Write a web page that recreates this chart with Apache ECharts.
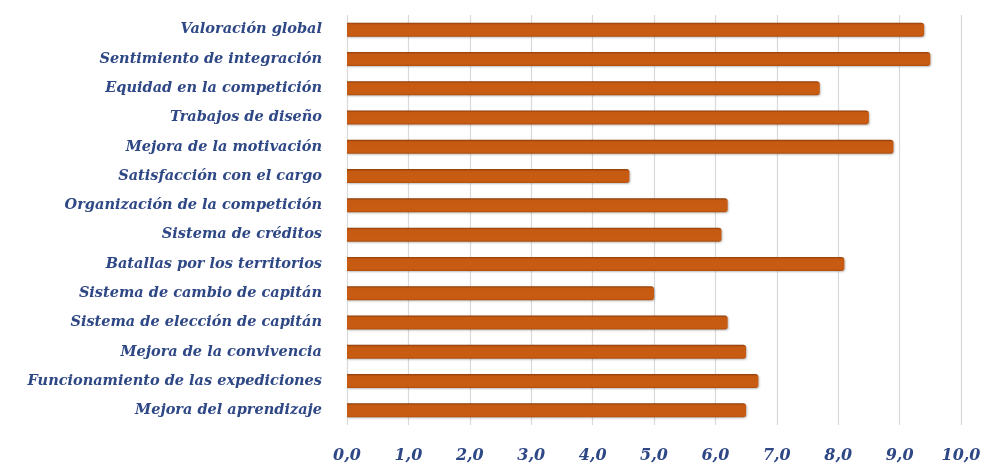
<!DOCTYPE html>
<html lang="es">
  <head>
    <meta charset="UTF-8" />
    <title>Valoraciones</title>
    <script src="https://cdn.jsdelivr.net/npm/echarts@6.0.0/dist/echarts.min.js"></script>
    <style>
      body {
        margin: 0;
        padding: 0;
        background: #fff;
      }
      #main {
        width: 999px;
        height: 465px;
      }
    </style>
  </head>
  <body>
    <div id="main"></div>
    <script>
      // categories, top to bottom as in the picture
      const categories = [
        "Valoración global",
        "Sentimiento de integración",
        "Equidad en la competición",
        "Trabajos de diseño",
        "Mejora de la motivación",
        "Satisfacción con el cargo",
        "Organización de la competición",
        "Sistema de créditos",
        "Batallas por los territorios",
        "Sistema de cambio de capitán",
        "Sistema de elección de capitán",
        "Mejora de la convivencia",
        "Funcionamiento de las expediciones",
        "Mejora del aprendizaje",
      ];
      const values = [9.4, 9.5, 7.7, 8.5, 8.9, 4.6, 6.2, 6.1, 8.1, 5.0, 6.2, 6.5, 6.7, 6.5];
      const xTicks = [0, 1, 2, 3, 4, 5, 6, 7, 8, 9, 10];

      const labelFont = "'DejaVu Serif', 'Liberation Serif', serif";
      const textBlue = "#2E4785";

      const chart = echarts.init(document.getElementById("main"));
      chart.setOption({
        animation: false,
        backgroundColor: "#fff",
        grid: {
          left: 347,
          right: 38,
          top: 15,
          height: 410,
        },
        xAxis: {
          type: "value",
          min: xTicks[0],
          max: xTicks[xTicks.length - 1],
          interval: 1,
          axisLine: { show: false },
          axisTick: { show: false },
          splitLine: { lineStyle: { color: "#D9D9D9", width: 1.2 } },
          axisLabel: {
            margin: 23,
            color: textBlue,
            fontFamily: labelFont,
            fontStyle: "italic",
            fontWeight: "bold",
            fontSize: 16,
            formatter: (v) => v.toFixed(1).replace(".", ","),
          },
        },
        yAxis: {
          type: "category",
          inverse: true,
          data: categories,
          axisLine: { show: false },
          axisTick: { show: false },
          axisLabel: {
            margin: 25,
            color: textBlue,
            fontFamily: labelFont,
            fontStyle: "italic",
            fontWeight: "bold",
            fontSize: 14.5,
          },
        },
        series: [
          {
            type: "bar",
            data: values,
            barWidth: 14,
            itemStyle: {
              color: new echarts.graphic.LinearGradient(0, 0, 0, 1, [
                { offset: 0, color: "#8E3D08" },
                { offset: 0.15, color: "#C65A12" },
                { offset: 0.85, color: "#C85C12" },
                { offset: 1, color: "#B14F0E" },
              ]),
              borderRadius: [0, 3, 3, 0],
              shadowColor: "rgba(0,0,0,0.25)",
              shadowBlur: 2,
              shadowOffsetX: 1,
              shadowOffsetY: 1,
            },
          },
        ],
      });
    </script>
  </body>
</html>
